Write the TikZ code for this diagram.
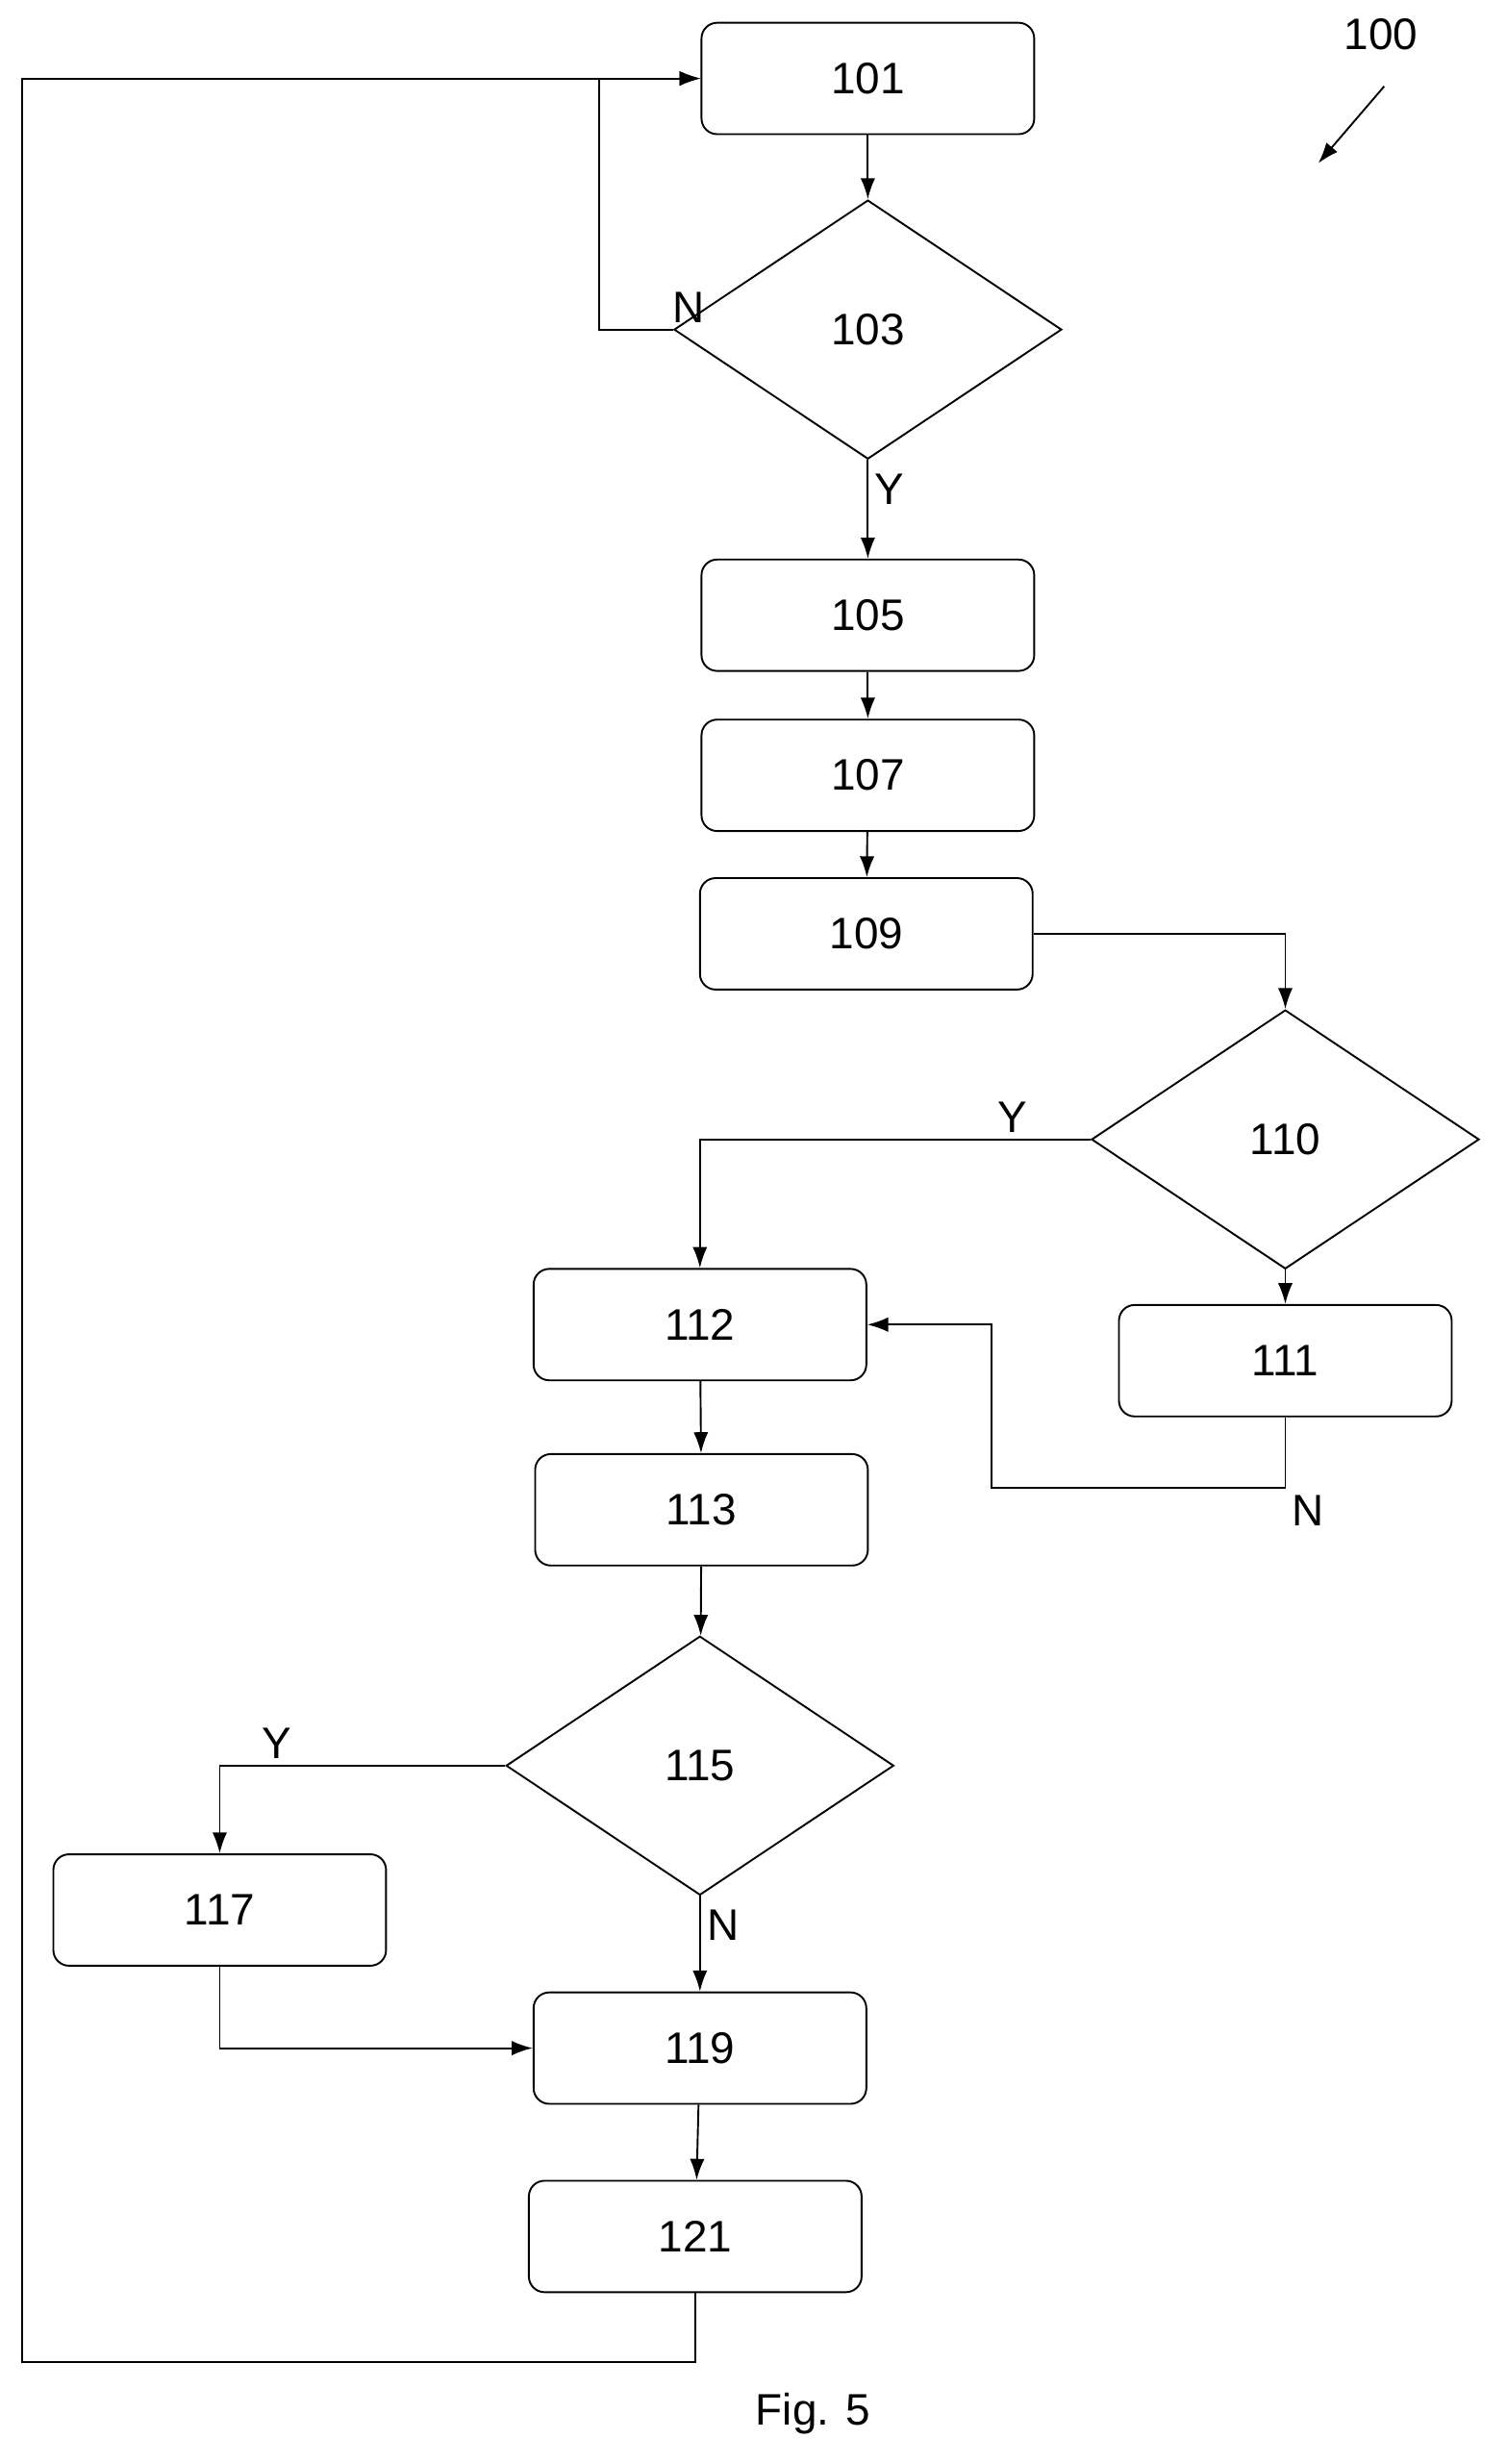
\documentclass[tikz,border=0pt]{standalone}
\usepackage{fontspec}
\setmainfont{Liberation Sans}
\usetikzlibrary{shapes.geometric,arrows.meta}
\tikzset{
  box/.style={draw,rounded corners=0.3cm,minimum width=6.36cm,minimum height=2.13cm,line width=1pt},
  test/.style={draw,diamond,aspect=1.5,inner sep=0pt,minimum width=7.41cm,minimum height=4.95cm,line width=1pt},
  flow/.style={-{Latex[length=0.4cm,width=0.28cm]},line width=1pt},
  every node/.style={font=\fontsize{24}{28}\selectfont}
}
\begin{document}
\begin{tikzpicture}[x=0.03cm,y=-0.03cm]
		\useasboundingbox (0,0) rectangle (960,1570);
		\node[box] (s101) at (553,50) {101};
		\node[test] (d103) at (553,210) {103};
		\node[box] (s105) at (553,392) {105};
		\node[box] (s107) at (553,494) {107};
		\node[box] (s109) at (552,595) {109};
		\node[test] (d110) at (819,726) {110};
		\node[box] (s112) at (446,844) {112};
		\node[box] (s111) at (819,867) {111};
		\node[box] (s113) at (447,962) {113};
		\node[test] (d115) at (446,1125) {115};
		\node[box] (s117) at (140,1217) {117};
		\node[box] (s119) at (446,1305) {119};
		\node[box] (s121) at (443,1425) {121};
		\coordinate (c121) at (443,1505);
		\coordinate (c1) at (14,1505);
		\coordinate (c2) at (14,50);
		\node (ref) at (880,22) {100};
		\coordinate (r1) at (882,55);
		\coordinate (r2) at (840,104);
		\node (fig) at (518,1538) {Fig. 5};
		% main chain
		\draw[flow] (s101) -- (d103);
		\draw[flow] (d103) -- node[right,pos=0.3] {Y} (s105);
		\draw[flow] (s105) -- (s107);
		\draw[flow] (s107) -- (s109);
		\draw[flow] (d103.west) -- ++(-47,0) node[above right,pos=0.1] {N} |- (s101.west);
		\draw[flow] (s109.east) -| (d110.north);
		\draw[flow] (d110.west) -| (s112.north) node[above,pos=0.1] {Y};
		\draw[flow] (d110) -- (s111);
		\draw[flow] (s111.south) -- ++(0,45) node[below right] {N} -| (632,844) -- (s112.east);
		\draw[flow] (s112) -- (s113);
		\draw[flow] (s113) -- (d115);
		\draw[flow] (d115.west) -| (s117.north) node[above,pos=0.4] {Y};
		\draw[flow] (d115) -- node[right,pos=0.3] {N} (s119);
		\draw[flow] (s117.south) |- (s119.west);
		\draw[flow] (s119) -- (s121);
		\draw[flow] (s121.south) -- (c121) -- (c1) -- (c2) -- (s101.west);
		\draw[flow] (r1) -- (r2);
\end{tikzpicture}
\end{document}
